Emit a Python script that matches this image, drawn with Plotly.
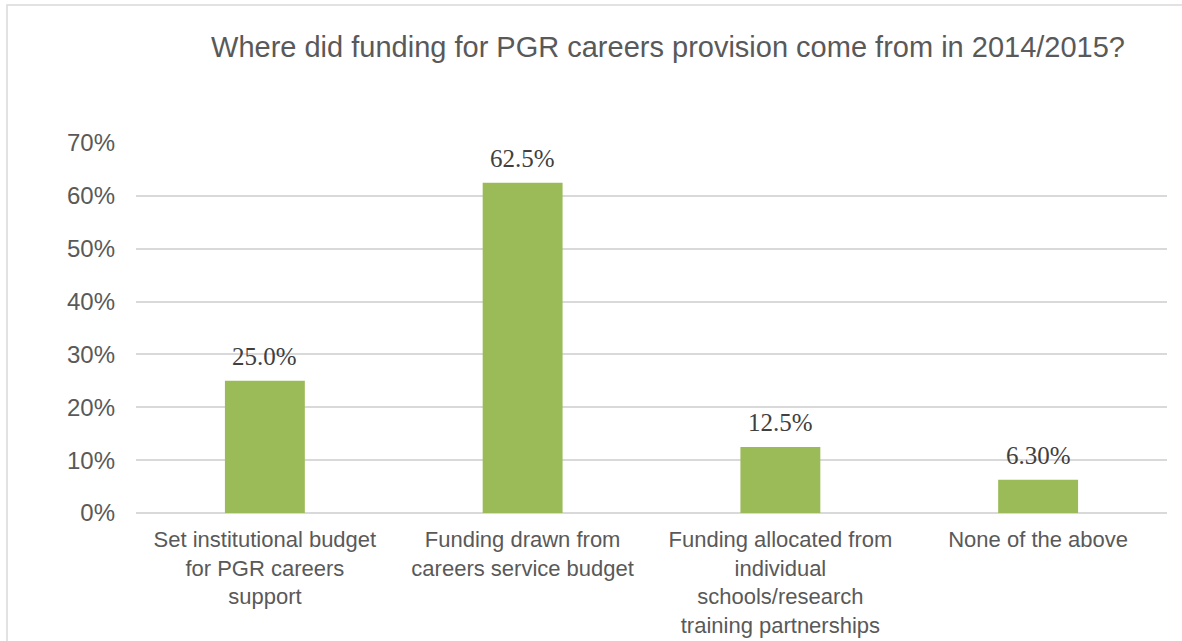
import plotly.graph_objects as go

categories = [
    "Set institutional budget<br>for PGR careers<br>support",
    "Funding drawn from<br>careers service budget",
    "Funding allocated from<br>individual<br>schools/research<br>training partnerships",
    "None of the above",
]
values = [25.0, 62.5, 12.5, 6.3]
labels = ["25.0%", "62.5%", "12.5%", "6.30%"]
tick_vals = [0, 10, 20, 30, 40, 50, 60, 70]
tick_text = ["0%", "10%", "20%", "30%", "40%", "50%", "60%", "70%"]

fig = go.Figure(
    go.Bar(
        x=categories,
        y=values,
        marker=dict(color="#9BBB59", line=dict(width=0)),
        hoverinfo="skip",
    )
)

for c, v, t in zip(categories, values, labels):
    fig.add_annotation(
        x=c, y=v, xref="x", yref="y",
        text=t, showarrow=False,
        yanchor="middle", yshift=24,
        font=dict(family="Liberation Serif", size=25, color="#404040"),
    )

fig.update_layout(
    width=1182,
    height=641,
    margin=dict(l=136, r=15, t=143, b=128, autoexpand=False),
    paper_bgcolor="white",
    plot_bgcolor="white",
    bargap=0.69,
    showlegend=False,
    font=dict(family="Liberation Sans", color="#595959"),
    title=dict(
        text="Where did funding for PGR careers provision come from in 2014/2015?",
        x=668 / 1182,
        xanchor="center",
        y=1 - 47 / 641,
        yanchor="middle",
        font=dict(family="Liberation Sans", size=29, color="#595959"),
    ),
    xaxis=dict(
        tickfont=dict(family="Liberation Sans", size=22, color="#595959"),
        showgrid=False,
        showline=False,
        ticks="",
        ticklabelstandoff=11,
        automargin=False,
    ),
    yaxis=dict(
        range=[0, 70],
        tickvals=tick_vals,
        ticktext=tick_text,
        tickfont=dict(family="Liberation Sans", size=24, color="#595959"),
        showgrid=True,
        gridcolor="#D9D9D9",
        gridwidth=1.5,
        zeroline=True,
        zerolinecolor="#D9D9D9",
        zerolinewidth=1.5,
        ticks="",
        ticklabelstandoff=20,
        automargin=False,
    ),
    shapes=[
        dict(
            type="rect",
            xref="paper",
            yref="paper",
            x0=(7 - 136) / 1031,
            x1=1.2,
            y0=-0.5,
            y1=1 + (143 - 5) / 370,
            line=dict(color="#D9D9D9", width=1.5),
            fillcolor="rgba(0,0,0,0)",
            layer="below",
        )
    ],
)

fig.write_html(
    "out.html",
    config={"displayModeBar": False},
    post_script="document.body.style.margin='0px';document.body.style.overflow='hidden';",
)
